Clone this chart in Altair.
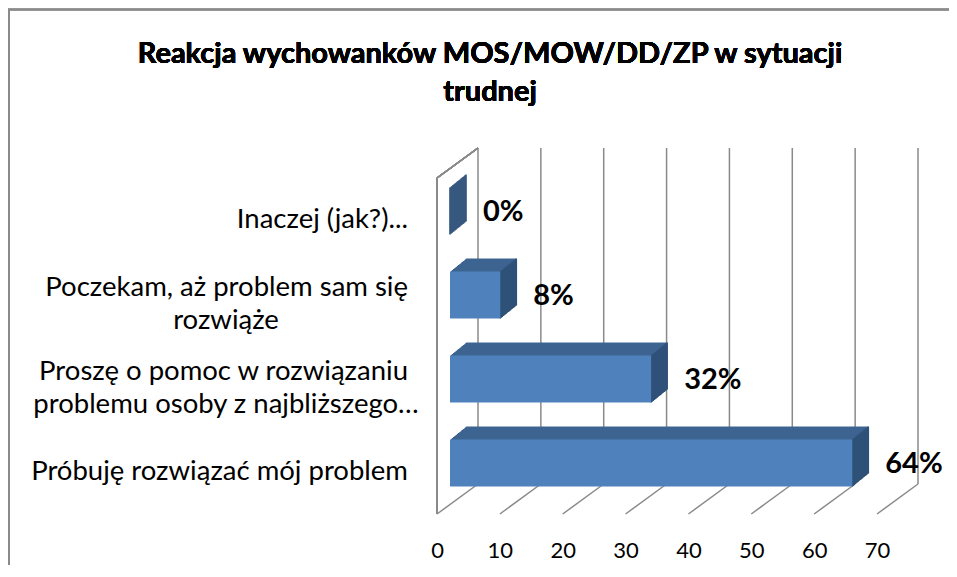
import altair as alt
import pandas as pd

# ---- data ----
categories = [
    "Inaczej (jak?)...",
    "Poczekam, aż problem sam się rozwiąże",
    "Proszę o pomoc w rozwiązaniu problemu osoby z najbliższego…",
    "Próbuję rozwiązać mój problem",
]
label_line1 = [
    "Inaczej (jak?)...",
    "Poczekam, aż problem sam się",
    "Proszę o pomoc w rozwiązaniu",
    "Próbuję rozwiązać mój problem",
]
label_line2 = ["", "rozwiąże", "problemu osoby z najbliższego…", ""]
values = [0, 8, 32, 64]
value_labels = ["0%", "8%", "32%", "64%"]
x_ticks = [0, 10, 20, 30, 40, 50, 60, 70]
title_lines = ["Reakcja wychowanków MOS/MOW/DD/ZP w sytuacji", "trudnej"]

df = pd.DataFrame({
    "cat": categories,
    "line1": label_line1,
    "line2": label_line2,
    "v": values,
    "lab": value_labels,
})
ticks_df = pd.DataFrame({"t": x_ticks})

# ---- layout constants (pixels) ----
W, H = 440, 336
PAD_L, PAD_T = 429, 170
TOTAL_W, TOTAL_H = 941, 557
DEPTH_X, DEPTH_Y = 41, 30          # wall depth
BAR_X, BAR_Y = 13, -9              # bar front face offset
EXT_X, EXT_Y = 16, 13              # bar extrusion
BAR_H = 47
FONT = "Lato"
GRID = "#8a8a8a"
FRONT = "#4f81bd"
TOP = "#3d6491"
SIDE = "#2f5179"
LAB_SIZE = 27.5

xs = alt.Scale(domain=[0, 70], nice=False, zero=True)
ys = alt.Scale(domain=categories, paddingInner=0, paddingOuter=0)
Y = alt.Y("cat:N", scale=ys, axis=None, sort=categories)
XV = alt.X("v:Q", scale=xs, stack=None)

base = alt.Chart(df)
tbase = alt.Chart(ticks_df)

layers = []

# outer frame (top and left edges)
layers.append(tbase.mark_rule(color=GRID, strokeWidth=1.5).encode(
    x=alt.value(-PAD_L + 0.75), y=alt.value(-PAD_T + 1), y2=alt.value(TOTAL_H - PAD_T)))
layers.append(tbase.mark_rule(color=GRID, strokeWidth=1.5).encode(
    x=alt.value(-PAD_L), x2=alt.value(TOTAL_W - PAD_L), y=alt.value(-PAD_T + 1.5)))

# title
for i, line in enumerate(title_lines):
    layers.append(tbase.mark_text(
        text=line, font=FONT, fontSize=29, fontWeight="bold", color="#000000",
        align="center", baseline="middle").encode(
        x=alt.value(53), y=alt.value(-124 + 38 * i)))

# back wall gridlines + x axis
layers.append(tbase.mark_rule(color=GRID, strokeWidth=1.5, xOffset=DEPTH_X).encode(
    x=alt.X("t:Q", scale=xs, axis=alt.Axis(
        values=x_ticks, domain=False, ticks=False, grid=False, title=None,
        labelFont=FONT, labelFontSize=22, labelColor="#000000", labelPadding=26,
        labelAngle=0, labelFlush=False, labelOverlap=False)),
    y=alt.value(-DEPTH_Y), y2=alt.value(H - DEPTH_Y)))
# floor diagonals
layers.append(tbase.mark_rule(color=GRID, strokeWidth=1.5, x2Offset=DEPTH_X).encode(
    x=alt.X("t:Q", scale=xs), x2="t:Q", y=alt.value(H), y2=alt.value(H - DEPTH_Y)))
# left wall front edge and top edge
layers.append(tbase.mark_rule(color=GRID, strokeWidth=1.5).encode(
    x=alt.datum(0, scale=xs), y=alt.value(0), y2=alt.value(H)))
layers.append(tbase.mark_rule(color=GRID, strokeWidth=1.5, x2Offset=DEPTH_X).encode(
    x=alt.datum(0, scale=xs), x2=alt.datum(0), y=alt.value(0), y2=alt.value(-DEPTH_Y)))

# bar extrusion: top faces
for i in range(1, EXT_X + 1):
    dy = BAR_Y - i * EXT_Y / EXT_X
    layers.append(base.mark_bar(height=BAR_H, color=TOP, xOffset=BAR_X + i,
                                x2Offset=BAR_X + i, yOffset=dy).encode(
        x=XV, x2=alt.datum(0), y=Y))
# bar extrusion: side faces
for i in range(0, EXT_X + 1):
    dy = BAR_Y - i * EXT_Y / EXT_X
    layers.append(base.mark_bar(height=BAR_H, fill=SIDE, stroke=SIDE, strokeWidth=1.6,
                                xOffset=BAR_X + i, x2Offset=BAR_X + i, yOffset=dy).encode(
        x=XV, x2="v:Q", y=Y))
# front faces
layers.append(base.mark_bar(height=BAR_H, color=FRONT, xOffset=BAR_X, x2Offset=BAR_X,
                            yOffset=BAR_Y).encode(
    x=XV, x2=alt.datum(0), y=Y))

# value labels
layers.append(base.mark_text(font=FONT, fontSize=29, fontWeight="bold", color="#000000",
                             align="left", baseline="middle", dx=46, dy=-8).encode(
    x=alt.X("v:Q", scale=xs), y=Y, text="lab:N"))

# category labels
layers.append(base.transform_filter(alt.datum.line2 == "").mark_text(
    font=FONT, fontSize=LAB_SIZE, color="#000000", align="right", baseline="middle").encode(
    x=alt.value(-29), y=Y, text="line1:N"))
layers.append(base.transform_filter(alt.datum.line2 != "").mark_text(
    font=FONT, fontSize=LAB_SIZE, color="#000000", align="right", baseline="middle",
    dy=-16).encode(x=alt.value(-29), y=Y, text="line1:N"))
for l1, l2 in zip(label_line1, label_line2):
    if l2:
        half = len(l1) * 6.5
        layers.append(base.transform_filter(alt.datum.line1 == l1).mark_text(
            font=FONT, fontSize=LAB_SIZE, color="#000000", align="center",
            baseline="middle", dy=17).encode(x=alt.value(-29 - half), y=Y, text="line2:N"))

chart = alt.layer(*layers).properties(
    width=W, height=H,
    background="#ffffff",
    autosize=alt.AutoSizeParams(type="none"),
    padding={"left": PAD_L, "top": PAD_T, "right": TOTAL_W - PAD_L - W,
             "bottom": TOTAL_H - PAD_T - H},
).configure_view(strokeWidth=0, stroke="transparent")

chart.save("out.html", embed_options={"renderer": "svg", "actions": False})
